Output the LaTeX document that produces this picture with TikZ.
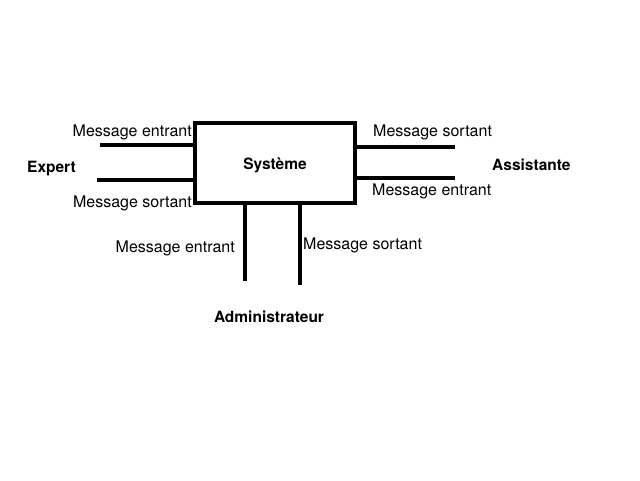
\documentclass[tikz,border=0pt]{standalone}
\usepackage{fontspec}
\setmainfont{TeX Gyre Heros}
\usetikzlibrary{positioning}

\begin{document}
\begin{tikzpicture}[
    x=1pt, y=-1pt,
    flow/.style={line width=4pt},
    msg/.style={font=\fontsize{16}{18}\selectfont, inner sep=0pt},
    actor/.style={font=\fontsize{15.5}{18}\selectfont\bfseries, inner sep=0pt}
]
\useasboundingbox (0,0) rectangle (640,480);

% Nodes
\node (sys) [rectangle, draw, line width=4pt, minimum width=160pt, minimum height=80pt] at (275,163) {};
\node (sysL) [actor] at (275,165) {Système};

\node (expert) [actor, anchor=west] at (27,169) {Expert};
\node (assist) [actor, anchor=west] at (492,165) {Assistante};
\node (admin) [actor] at (269,317) {Administrateur};

% Free ends of the lines
\coordinate (eIn) at (100,145);
\coordinate (eOut) at (97,180);
\coordinate (aOut) at (455,147);
\coordinate (aIn) at (455,178);
\coordinate (dIn) at (245,281);
\coordinate (dOut) at (300,285);

% Labels
\node (eInL) [msg, anchor=east] at (192,132) {Message entrant};
\node (eOutL) [msg, anchor=east] at (192,203) {Message sortant};
\node (aOutL) [msg, anchor=west] at (373,132) {Message sortant};
\node (aInL) [msg, anchor=west] at (372,191) {Message entrant};
\node (dInL) [msg, anchor=east] at (235,248) {Message entrant};
\node (dOutL) [msg, anchor=west] at (303,245) {Message sortant};

% Lines
\draw [flow] (eIn) -- (eIn -| sys.west);
\draw [flow] (eOut) -- (eOut -| sys.west);
\draw [flow] (aOut -| sys.east) -- (aOut);
\draw [flow] (aIn -| sys.east) -- (aIn);
\draw [flow] (dIn |- sys.south) -- (dIn);
\draw [flow] (dOut |- sys.south) -- (dOut);

\end{tikzpicture}
\end{document}
